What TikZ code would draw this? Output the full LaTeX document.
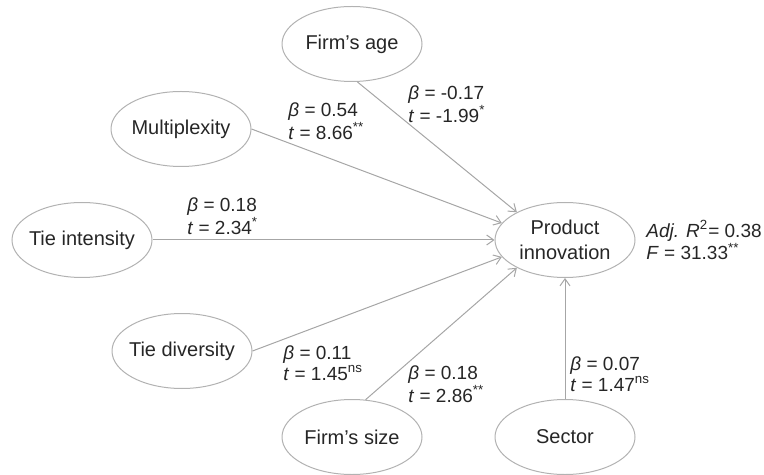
\documentclass[tikz,border=0pt]{standalone}
\usepackage{fontspec}
\setmainfont{Liberation Sans}
\usetikzlibrary{shapes.geometric,arrows.meta}

\begin{document}
\begin{tikzpicture}[x=0.5pt, y=-0.5pt, >={Straight Barb[length=3.5pt,width=5pt]},
  var/.style={ellipse, draw=gray!60, line width=0.5pt, minimum width=70pt, minimum height=37.5pt,
    inner xsep=-3pt, inner ysep=0pt, align=center, font=\fontsize{10}{12.5}\selectfont, text=black!85},
  effect/.style={->, draw=gray!70, line width=0.5pt},
  coef/.style={anchor=west, align=left, inner sep=0pt, font=\fontsize{9.5}{9}\selectfont, text=black!85}]
\useasboundingbox (0,0) rectangle (764,475);

%--- Variables ---
\node[var] (age) at (352,44) {Firm's age};
\node[var] (mplx) at (181,129) {Multiplexity};
\node[var] (tint) at (82,240) {Tie intensity};
\node[var] (tdiv) at (182,351) {Tie diversity};
\node[var] (size) at (352,437) {Firm's size};
\node[var] (sector) at (565,437) {Sector};
\node[var] (innov) at (565,240) {Product\\innovation};

%--- Paths to product innovation ---
\draw[effect] (age.-82) -- (innov.150);
\draw[effect] (mplx.east) -- (innov.165);
\draw[effect] (tint.east) -- (innov.west);
\draw[effect] (tdiv.east) -- (innov.195);
\draw[effect] (size.70) -- (innov.210);
\draw[effect] (sector.north) -- (innov.south);

%--- Coefficients ---
\node[coef] (age-c) at (408,104) {\textit{β} = -0.17\\\textit{t} = -1.99\textsuperscript{*}};
\node[coef] (mplx-c) at (288,121) {\textit{β} = 0.54\\\textit{t} = 8.66\textsuperscript{**}};
\node[coef] (tint-c) at (187,216) {\textit{β} = 0.18\\\textit{t} = 2.34\textsuperscript{*}};
\node[coef] (tdiv-c) at (283,363) {\textit{β} = 0.11\\\textit{t} = 1.45\textsuperscript{ns}};
\node[coef] (size-c) at (408,384) {\textit{β} = 0.18\\\textit{t} = 2.86\textsuperscript{**}};
\node[coef] (sector-c) at (570,374) {\textit{β} = 0.07\\\textit{t} = 1.47\textsuperscript{ns}};

% Model fit
\node[coef] (fit) at (646,240) {\textit{Adj. R}\textsuperscript{2}= 0.38\\\textit{F} = 31.33\textsuperscript{**}};
\end{tikzpicture}
\end{document}
